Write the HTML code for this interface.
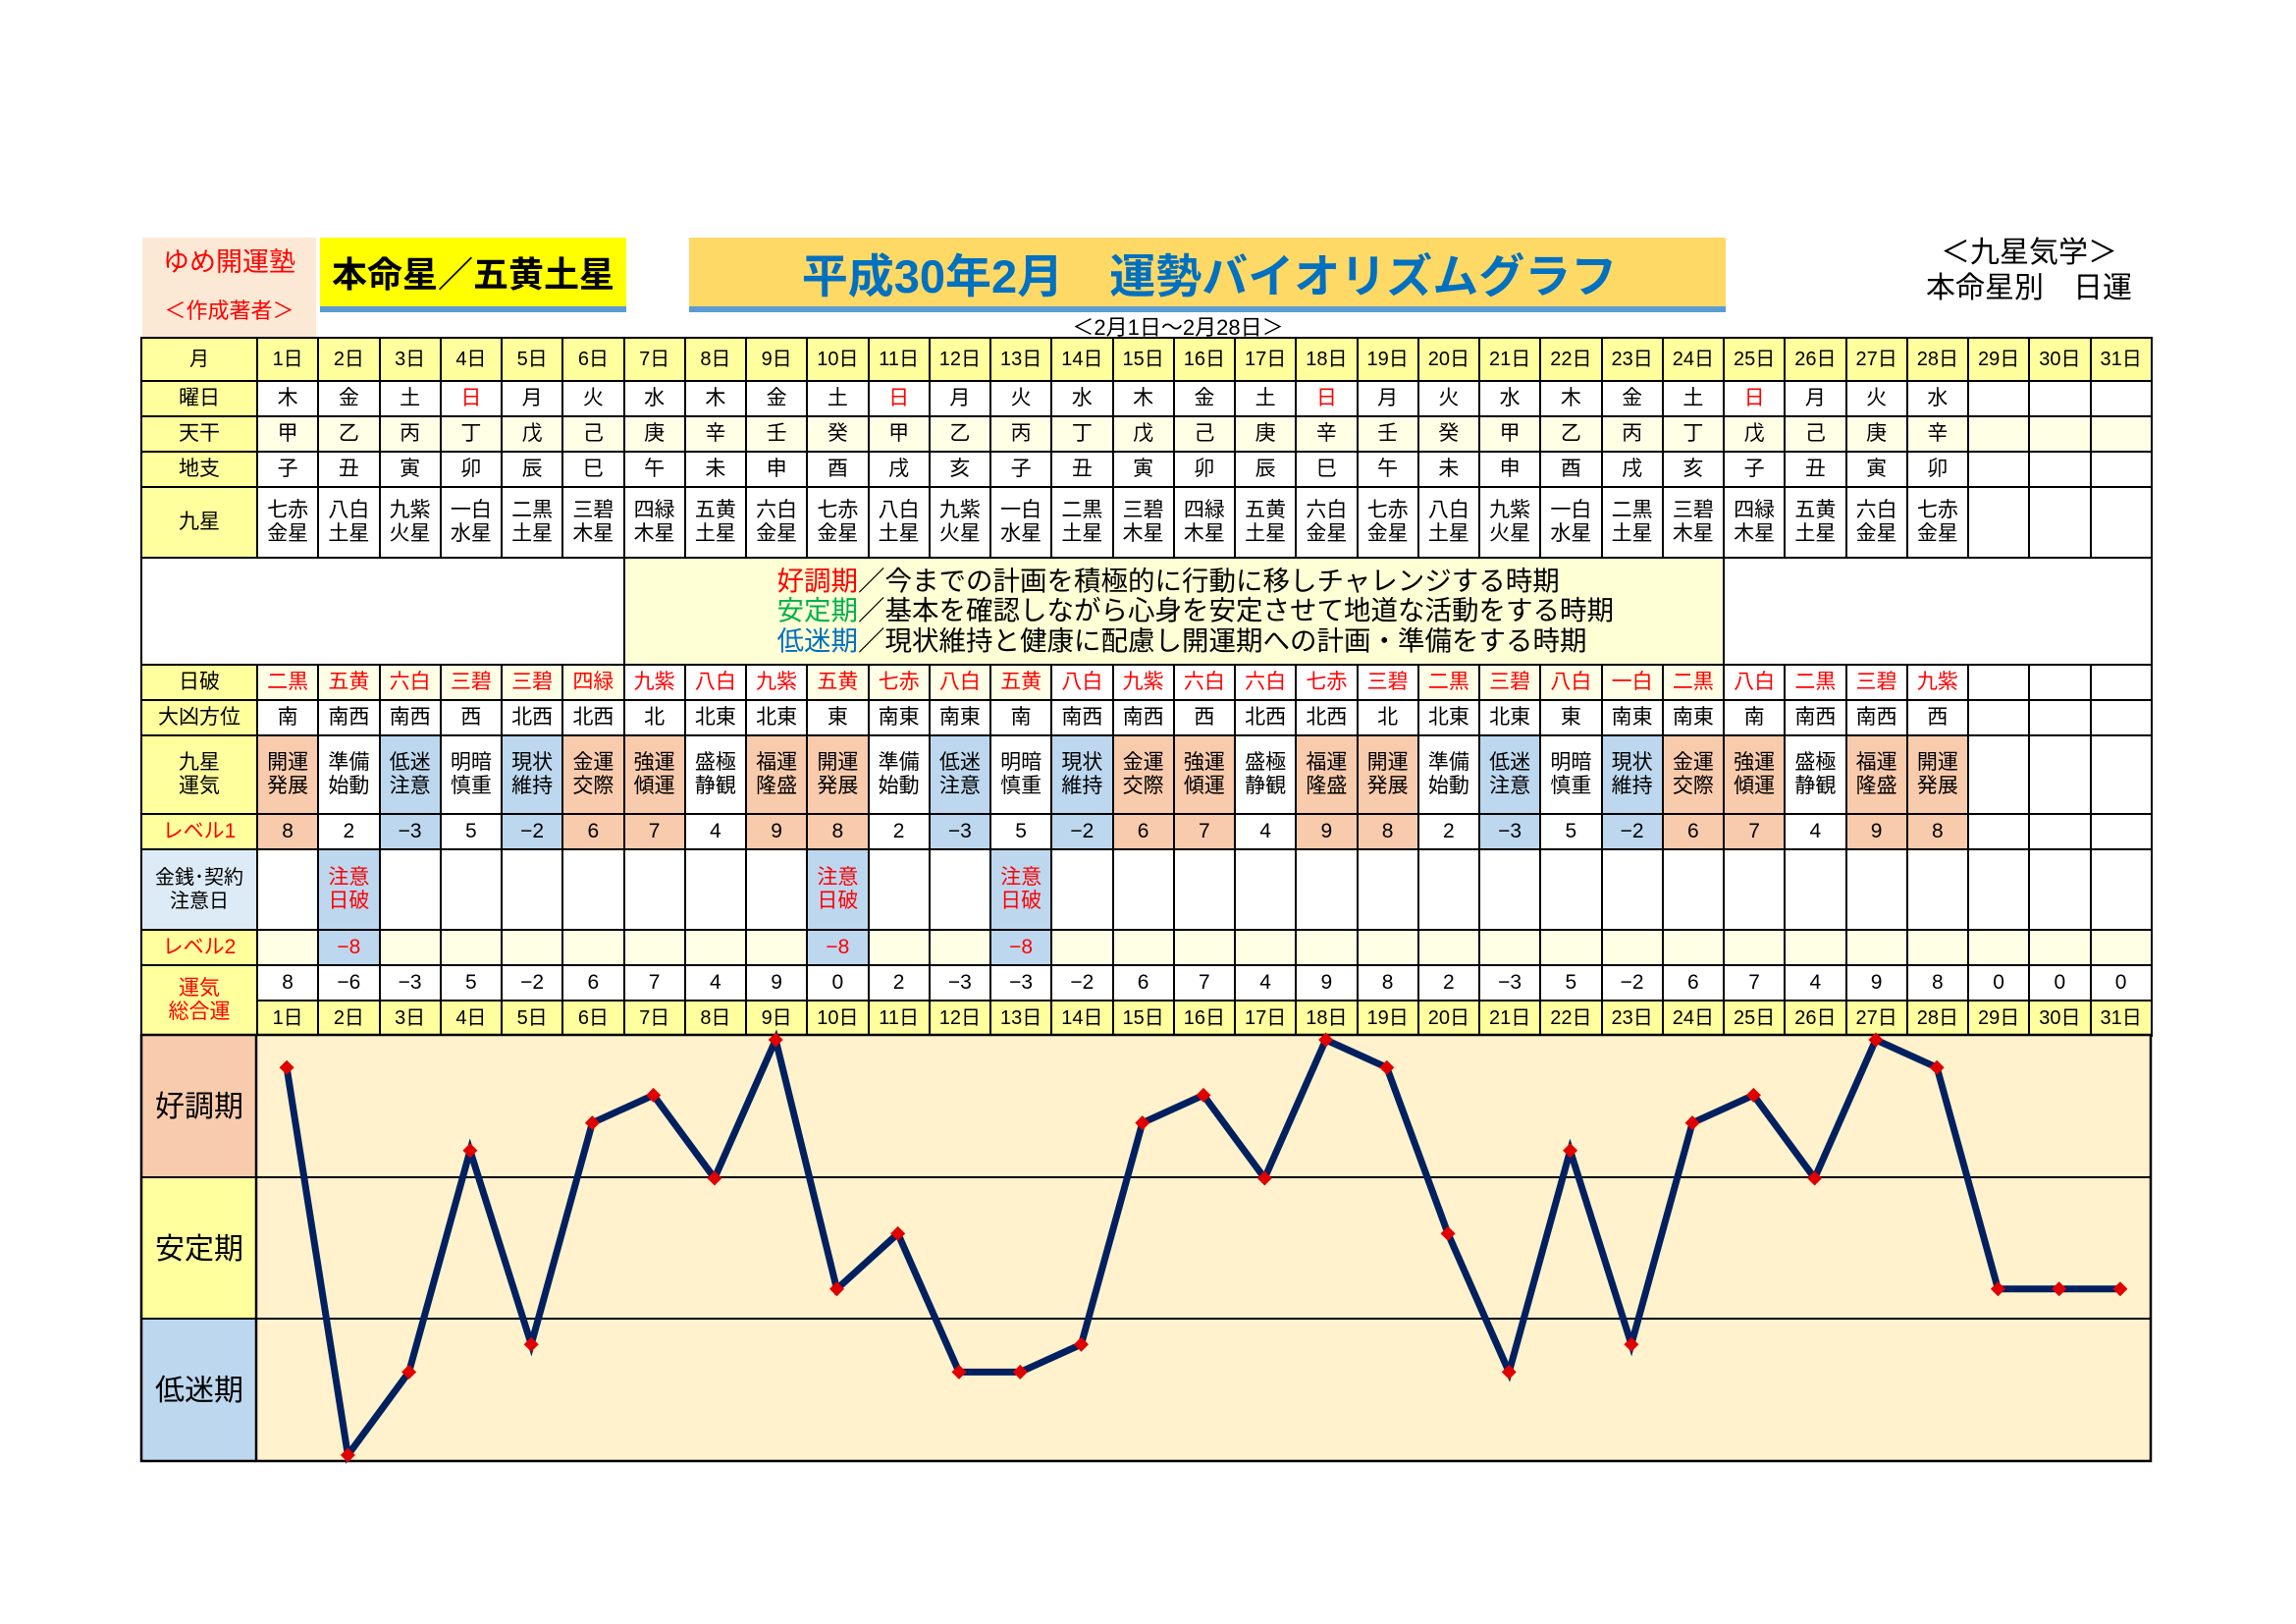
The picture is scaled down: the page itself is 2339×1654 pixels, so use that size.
<!DOCTYPE html>
<html><head><meta charset="utf-8">
<style>
*{box-sizing:border-box;margin:0;padding:0}
body{width:2339px;height:1654px;background:#fff;position:relative;overflow:hidden;font-family:"Liberation Sans","Noto Sans CJK JP",sans-serif;color:#000}
.abs{position:absolute}
table{position:absolute;left:143px;top:343px;width:2048px;border-collapse:collapse;table-layout:fixed}
td{border:2px solid #000;text-align:center;vertical-align:middle;font-size:21px;line-height:24px;padding:0;overflow:hidden;white-space:nowrap}
.y{background:#FFFF9E}
.c{background:#FFFFE6}
.s{background:#F8CBAD}
.b{background:#BDD7EE}
.r{color:#F00}
.lb{background:#DDEBF7}
tr.d td{font-size:20px}
</style></head><body>

<div class="abs" style="left:145px;top:242px;width:177px;height:101px;background:#FCE9D5"></div>
<div class="abs r" style="left:145px;top:245px;width:177px;text-align:center;font-size:27px;color:#F00">ゆめ開運塾</div>
<div class="abs" style="left:145px;top:299px;width:177px;text-align:center;font-size:22px;color:#F00">＜作成著者＞</div>

<div class="abs" style="left:326px;top:242px;width:312px;height:70px;background:#FFFF00"></div>
<div class="abs" style="left:326px;top:312px;width:312px;height:6px;background:#5B9BD5"></div>
<div class="abs" style="left:326px;top:251px;width:312px;text-align:center;font-size:36px;font-weight:bold">本命星／五黄土星</div>

<div class="abs" style="left:702px;top:242px;width:1056px;height:70px;background:#FFD966"></div>
<div class="abs" style="left:702px;top:312px;width:1056px;height:6px;background:#5B9BD5"></div>
<div class="abs" style="left:702px;top:243px;width:1060px;text-align:center;font-size:47px;font-weight:bold;color:#0070C0">平成30年2月　運勢バイオリズムグラフ</div>
<div class="abs" style="left:1000px;top:316px;width:400px;text-align:center;font-size:22px">＜2月1日～2月28日＞</div>

<div class="abs" style="left:1900px;top:240px;width:334px;text-align:center;font-size:30px;line-height:36px">＜九星気学＞<br>本命星別　日運</div>

<table>
<colgroup><col style="width:118px"><col span="31" style="width:62.26px"></colgroup>
<tr class="d" style="height:44px"><td class="y">月</td><td class="y">1日</td><td class="y">2日</td><td class="y">3日</td><td class="y">4日</td><td class="y">5日</td><td class="y">6日</td><td class="y">7日</td><td class="y">8日</td><td class="y">9日</td><td class="y">10日</td><td class="y">11日</td><td class="y">12日</td><td class="y">13日</td><td class="y">14日</td><td class="y">15日</td><td class="y">16日</td><td class="y">17日</td><td class="y">18日</td><td class="y">19日</td><td class="y">20日</td><td class="y">21日</td><td class="y">22日</td><td class="y">23日</td><td class="y">24日</td><td class="y">25日</td><td class="y">26日</td><td class="y">27日</td><td class="y">28日</td><td class="y">29日</td><td class="y">30日</td><td class="y">31日</td></tr>
<tr style="height:36px"><td class="y">曜日</td><td>木</td><td>金</td><td>土</td><td class="r">日</td><td>月</td><td>火</td><td>水</td><td>木</td><td>金</td><td>土</td><td class="r">日</td><td>月</td><td>火</td><td>水</td><td>木</td><td>金</td><td>土</td><td class="r">日</td><td>月</td><td>火</td><td>水</td><td>木</td><td>金</td><td>土</td><td class="r">日</td><td>月</td><td>火</td><td>水</td><td></td><td></td><td></td></tr>
<tr style="height:36px"><td class="y">天干</td><td class="c">甲</td><td class="c">乙</td><td class="c">丙</td><td class="c">丁</td><td class="c">戊</td><td class="c">己</td><td class="c">庚</td><td class="c">辛</td><td class="c">壬</td><td class="c">癸</td><td class="c">甲</td><td class="c">乙</td><td class="c">丙</td><td class="c">丁</td><td class="c">戊</td><td class="c">己</td><td class="c">庚</td><td class="c">辛</td><td class="c">壬</td><td class="c">癸</td><td class="c">甲</td><td class="c">乙</td><td class="c">丙</td><td class="c">丁</td><td class="c">戊</td><td class="c">己</td><td class="c">庚</td><td class="c">辛</td><td class="c"></td><td class="c"></td><td class="c"></td></tr>
<tr style="height:36px"><td class="y">地支</td><td>子</td><td>丑</td><td>寅</td><td>卯</td><td>辰</td><td>巳</td><td>午</td><td>未</td><td>申</td><td>酉</td><td>戌</td><td>亥</td><td>子</td><td>丑</td><td>寅</td><td>卯</td><td>辰</td><td>巳</td><td>午</td><td>未</td><td>申</td><td>酉</td><td>戌</td><td>亥</td><td>子</td><td>丑</td><td>寅</td><td>卯</td><td></td><td></td><td></td></tr>
<tr style="height:72px"><td class="y">九星</td><td>七赤<br>金星</td><td>八白<br>土星</td><td>九紫<br>火星</td><td>一白<br>水星</td><td>二黒<br>土星</td><td>三碧<br>木星</td><td>四緑<br>木星</td><td>五黄<br>土星</td><td>六白<br>金星</td><td>七赤<br>金星</td><td>八白<br>土星</td><td>九紫<br>火星</td><td>一白<br>水星</td><td>二黒<br>土星</td><td>三碧<br>木星</td><td>四緑<br>木星</td><td>五黄<br>土星</td><td>六白<br>金星</td><td>七赤<br>金星</td><td>八白<br>土星</td><td>九紫<br>火星</td><td>一白<br>水星</td><td>二黒<br>土星</td><td>三碧<br>木星</td><td>四緑<br>木星</td><td>五黄<br>土星</td><td>六白<br>金星</td><td>七赤<br>金星</td><td></td><td></td><td></td></tr>
<tr style="height:109px"><td colspan="7"></td><td colspan="18" style="background:#FFFFD5;text-align:left;padding-left:155px;font-size:27.5px;line-height:30.5px"><span style="color:#F00">好調期</span>／今までの計画を積極的に行動に移しチャレンジする時期<br><span style="color:#00B050">安定期</span>／基本を確認しながら心身を安定させて地道な活動をする時期<br><span style="color:#0070C0">低迷期</span>／現状維持と健康に配慮し開運期への計画・準備をする時期</td><td colspan="7"></td></tr>
<tr style="height:36px"><td class="y">日破</td><td class="c r">二黒</td><td class="c r">五黄</td><td class="c r">六白</td><td class="c r">三碧</td><td class="c r">三碧</td><td class="c r">四緑</td><td class="r">九紫</td><td class="r">八白</td><td class="r">九紫</td><td class="c r">五黄</td><td class="c r">七赤</td><td class="c r">八白</td><td class="c r">五黄</td><td class="r">八白</td><td class="r">九紫</td><td class="r">六白</td><td class="r">六白</td><td class="r">七赤</td><td class="r">三碧</td><td class="c r">二黒</td><td class="c r">三碧</td><td class="c r">八白</td><td class="c r">一白</td><td class="c r">二黒</td><td class="r">八白</td><td class="r">二黒</td><td class="r">三碧</td><td class="r">九紫</td><td></td><td></td><td></td></tr>
<tr style="height:36px"><td class="y">大凶方位</td><td>南</td><td>南西</td><td>南西</td><td>西</td><td>北西</td><td>北西</td><td>北</td><td>北東</td><td>北東</td><td>東</td><td>南東</td><td>南東</td><td>南</td><td>南西</td><td>南西</td><td>西</td><td>北西</td><td>北西</td><td>北</td><td>北東</td><td>北東</td><td>東</td><td>南東</td><td>南東</td><td>南</td><td>南西</td><td>南西</td><td>西</td><td></td><td></td><td></td></tr>
<tr style="height:80px"><td class="y">九星<br>運気</td><td class="s">開運<br>発展</td><td>準備<br>始動</td><td class="b">低迷<br>注意</td><td>明暗<br>慎重</td><td class="b">現状<br>維持</td><td class="s">金運<br>交際</td><td class="s">強運<br>傾運</td><td>盛極<br>静観</td><td class="s">福運<br>隆盛</td><td class="s">開運<br>発展</td><td>準備<br>始動</td><td class="b">低迷<br>注意</td><td>明暗<br>慎重</td><td class="b">現状<br>維持</td><td class="s">金運<br>交際</td><td class="s">強運<br>傾運</td><td>盛極<br>静観</td><td class="s">福運<br>隆盛</td><td class="s">開運<br>発展</td><td>準備<br>始動</td><td class="b">低迷<br>注意</td><td>明暗<br>慎重</td><td class="b">現状<br>維持</td><td class="s">金運<br>交際</td><td class="s">強運<br>傾運</td><td>盛極<br>静観</td><td class="s">福運<br>隆盛</td><td class="s">開運<br>発展</td><td></td><td></td><td></td></tr>
<tr style="height:36px"><td class="y r">レベル1</td><td class="s">8</td><td>2</td><td class="b">−3</td><td>5</td><td class="b">−2</td><td class="s">6</td><td class="s">7</td><td>4</td><td class="s">9</td><td class="s">8</td><td>2</td><td class="b">−3</td><td>5</td><td class="b">−2</td><td class="s">6</td><td class="s">7</td><td>4</td><td class="s">9</td><td class="s">8</td><td>2</td><td class="b">−3</td><td>5</td><td class="b">−2</td><td class="s">6</td><td class="s">7</td><td>4</td><td class="s">9</td><td class="s">8</td><td></td><td></td><td></td></tr>
<tr style="height:82px"><td class="lb" style="font-size:20px">金銭･契約<br>注意日</td><td></td><td class="b r">注意<br>日破</td><td></td><td></td><td></td><td></td><td></td><td></td><td></td><td class="b r">注意<br>日破</td><td></td><td></td><td class="b r">注意<br>日破</td><td></td><td></td><td></td><td></td><td></td><td></td><td></td><td></td><td></td><td></td><td></td><td></td><td></td><td></td><td></td><td></td><td></td><td></td></tr>
<tr style="height:36px"><td class="y r">レベル2</td><td class="c"></td><td class="b r">−8</td><td class="c"></td><td class="c"></td><td class="c"></td><td class="c"></td><td class="c"></td><td class="c"></td><td class="c"></td><td class="b r">−8</td><td class="c"></td><td class="c"></td><td class="b r">−8</td><td class="c"></td><td class="c"></td><td class="c"></td><td class="c"></td><td class="c"></td><td class="c"></td><td class="c"></td><td class="c"></td><td class="c"></td><td class="c"></td><td class="c"></td><td class="c"></td><td class="c"></td><td class="c"></td><td class="c"></td><td class="c"></td><td class="c"></td><td class="c"></td></tr>
<tr style="height:36px"><td class="y r" rowspan="2">運気<br>総合運</td><td>8</td><td>−6</td><td>−3</td><td>5</td><td>−2</td><td>6</td><td>7</td><td>4</td><td>9</td><td>0</td><td>2</td><td>−3</td><td>−3</td><td>−2</td><td>6</td><td>7</td><td>4</td><td>9</td><td>8</td><td>2</td><td>−3</td><td>5</td><td>−2</td><td>6</td><td>7</td><td>4</td><td>9</td><td>8</td><td>0</td><td>0</td><td>0</td></tr>
<tr class="d" style="height:36px"><td class="y">1日</td><td class="y">2日</td><td class="y">3日</td><td class="y">4日</td><td class="y">5日</td><td class="y">6日</td><td class="y">7日</td><td class="y">8日</td><td class="y">9日</td><td class="y">10日</td><td class="y">11日</td><td class="y">12日</td><td class="y">13日</td><td class="y">14日</td><td class="y">15日</td><td class="y">16日</td><td class="y">17日</td><td class="y">18日</td><td class="y">19日</td><td class="y">20日</td><td class="y">21日</td><td class="y">22日</td><td class="y">23日</td><td class="y">24日</td><td class="y">25日</td><td class="y">26日</td><td class="y">27日</td><td class="y">28日</td><td class="y">29日</td><td class="y">30日</td><td class="y">31日</td></tr>
</table>

<svg class="abs" style="left:0;top:0" width="2339" height="1654" viewBox="0 0 2339 1654">
<defs><marker id="dm" markerUnits="userSpaceOnUse" markerWidth="18" markerHeight="18" refX="9" refY="9" orient="0"><polygon points="9,1.5 16.5,9 9,16.5 1.5,9" fill="#E00000"/></marker></defs>
<rect x="143" y="1054" width="118" height="145" fill="#F8CBAD"/>
<rect x="143" y="1199" width="118" height="144" fill="#FFFF9E"/>
<rect x="143" y="1343" width="118" height="145" fill="#BDD7EE"/>
<rect x="261" y="1054" width="1930" height="434" fill="#FFF2CC"/>
<line x1="143" y1="1199" x2="2191" y2="1199" stroke="#000" stroke-width="2"/>
<line x1="143" y1="1343" x2="2191" y2="1343" stroke="#000" stroke-width="2"/>
<line x1="261" y1="1054" x2="261" y2="1488" stroke="#000" stroke-width="2.5"/>
<rect x="144" y="1054" width="2047" height="434" fill="none" stroke="#000" stroke-width="2.5"/>
<g font-family="Liberation Sans, Noto Sans CJK JP, sans-serif" font-size="30" text-anchor="middle">
<text x="203" y="1137">好調期</text><text x="203" y="1282">安定期</text><text x="203" y="1426">低迷期</text></g>
<polyline fill="none" stroke="#002060" stroke-width="7" stroke-linejoin="miter" marker-start="url(#dm)" marker-mid="url(#dm)" marker-end="url(#dm)" points="292.1,1087.2 354.4,1482 416.6,1397.4 478.9,1171.8 541.2,1369.2 603.4,1143.6 665.7,1115.4 727.9,1200 790.2,1059 852.5,1312.8 914.7,1256.4 977,1397.4 1039.3,1397.4 1101.5,1369.2 1163.8,1143.6 1226,1115.4 1288.3,1200 1350.6,1059 1412.8,1087.2 1475.1,1256.4 1537.3,1397.4 1599.6,1171.8 1661.9,1369.2 1724.1,1143.6 1786.4,1115.4 1848.6,1200 1910.9,1059 1973.2,1087.2 2035.4,1312.8 2097.7,1312.8 2159.9,1312.8"/>
</svg>
</body></html>
